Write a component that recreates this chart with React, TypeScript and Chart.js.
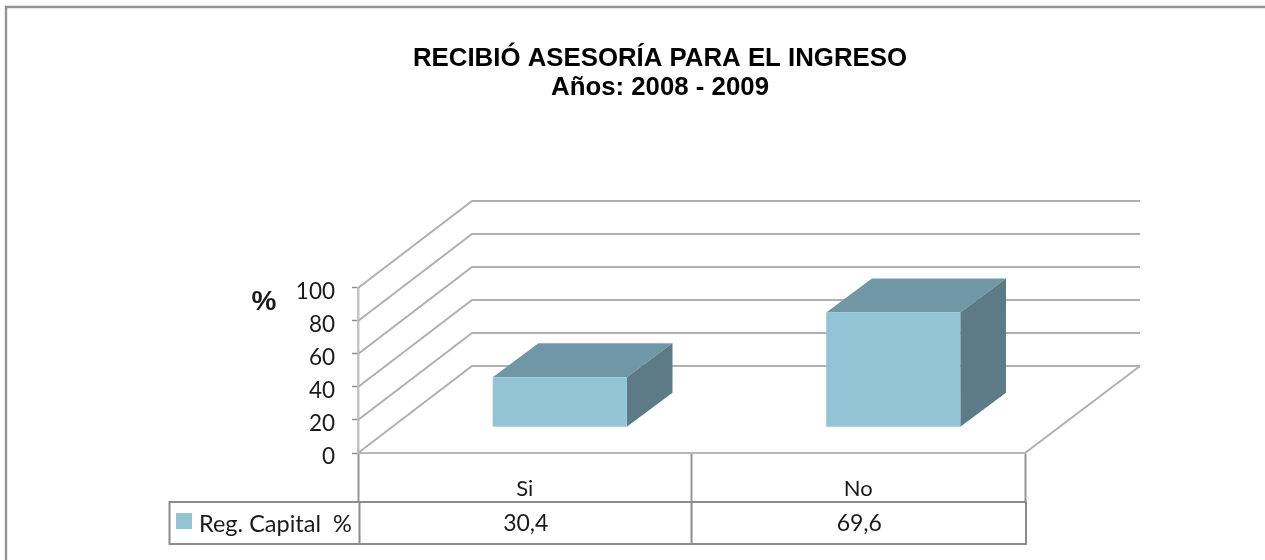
import React, { useEffect, useRef } from "react";
import { Chart, registerables } from "chart.js";

Chart.register(...registerables);

const categories = ["Si", "No"];
const seriesLabel = "Reg. Capital  %";
const seriesValues = [30.4, 69.6];
const titleLines = ["RECIBIÓ ASESORÍA PARA EL INGRESO", "Años: 2008 - 2009"];
const axisTitle = "%";
const yTicks = { min: 0, max: 100, stepSize: 20 };

const FRONT = "#93c4d6";
const TOP = "#6f97a6";
const SIDE = "#5d7b87";
const WALL = "#b0b0b0";
const TABLE = "#8c8c8c";
const TEXT = "#1a1a1a";
const LABEL_FONT = "Lato";

const FLOOR_DX = 114;
const FLOOR_DY = -87;
const BAR_DX = 35;
const BAR_DY = -25.7;
const BAR_DEPTH_X = 45.7;
const BAR_DEPTH_Y = -34;

const scene3d = {
  id: "scene3d",
  beforeDatasetsDraw(chart: any) {
    const { ctx } = chart;
    const x = chart.scales.x;
    const y = chart.scales.y;
    const left = x.left;
    const right = x.right;
    ctx.save();
    // outer frame
    ctx.strokeStyle = "#949494";
    ctx.lineWidth = 2.4;
    ctx.beginPath();
    ctx.moveTo(6, 560);
    ctx.lineTo(6, 7);
    ctx.lineTo(1265, 7);
    ctx.stroke();
    // walls
    ctx.strokeStyle = WALL;
    ctx.lineWidth = 2;
    y.ticks.forEach((t: any) => {
      const py = y.getPixelForValue(t.value);
      ctx.beginPath();
      ctx.moveTo(left, py);
      ctx.lineTo(left + FLOOR_DX, py + FLOOR_DY);
      ctx.lineTo(right + FLOOR_DX + 1, py + FLOOR_DY);
      ctx.stroke();
    });
    const y0 = y.getPixelForValue(0);
    ctx.beginPath();
    ctx.moveTo(right, y0);
    ctx.lineTo(right + FLOOR_DX + 1, y0 + FLOOR_DY);
    ctx.stroke();
    ctx.restore();
  },
  beforeDatasetDraw(chart: any, args: any) {
    const { ctx } = chart;
    const meta = chart.getDatasetMeta(args.index);
    ctx.save();
    ctx.translate(BAR_DX, BAR_DY);
    meta.data.forEach((bar: any) => {
      const l = bar.x - bar.width / 2;
      const r = bar.x + bar.width / 2;
      const t = bar.y;
      const b = bar.base;
      ctx.fillStyle = TOP;
      ctx.beginPath();
      ctx.moveTo(l, t);
      ctx.lineTo(l + BAR_DEPTH_X, t + BAR_DEPTH_Y);
      ctx.lineTo(r + BAR_DEPTH_X, t + BAR_DEPTH_Y);
      ctx.lineTo(r, t);
      ctx.closePath();
      ctx.fill();
      ctx.fillStyle = SIDE;
      ctx.beginPath();
      ctx.moveTo(r, t);
      ctx.lineTo(r + BAR_DEPTH_X, t + BAR_DEPTH_Y);
      ctx.lineTo(r + BAR_DEPTH_X, b + BAR_DEPTH_Y);
      ctx.lineTo(r, b);
      ctx.closePath();
      ctx.fill();
    });
  },
  afterDatasetDraw(chart: any) {
    chart.ctx.restore();
  },
  afterDraw(chart: any) {
    const { ctx } = chart;
    const x = chart.scales.x;
    const y = chart.scales.y;
    const tableTop = 502;
    const tableBottom = 544;
    const tableLeft = 169.5;
    const divider = x.left + 1.5;
    const tableRight = x.right + 1;
    ctx.save();
    // axis title
    ctx.fillStyle = TEXT;
    ctx.font = `bold 28px "Liberation Sans"`;
    ctx.textAlign = "center";
    ctx.textBaseline = "middle";
    ctx.fillText(axisTitle, 264, 302);
    // y tick labels
    ctx.font = `22.5px ${LABEL_FONT}`;
    ctx.textAlign = "right";
    y.ticks.forEach((t: any) => {
      ctx.fillText(String(t.value), 335, y.getPixelForValue(t.value) + 3.5);
    });
    // data table
    ctx.strokeStyle = TABLE;
    ctx.lineWidth = 2;
    ctx.strokeRect(tableLeft, tableTop, tableRight - tableLeft, tableBottom - tableTop);
    ctx.beginPath();
    ctx.moveTo(divider, tableTop);
    ctx.lineTo(divider, tableBottom);
    ctx.moveTo(x.getPixelForValue(0.5), tableTop);
    ctx.lineTo(x.getPixelForValue(0.5), tableBottom);
    ctx.stroke();
    // legend key and name
    ctx.fillStyle = FRONT;
    ctx.fillRect(176, 513, 16, 16);
    ctx.fillStyle = TEXT;
    ctx.font = `23.5px ${LABEL_FONT}`;
    ctx.textAlign = "left";
    ctx.fillText(seriesLabel, 199, 524);
    // values
    ctx.font = `23px ${LABEL_FONT}`;
    ctx.textAlign = "center";
    seriesValues.forEach((v, i) => {
      ctx.fillText(String(v).replace(".", ","), x.getPixelForValue(i) + 1, 524);
    });
    ctx.restore();
  },
};

export default function App() {
  const ref = useRef<HTMLCanvasElement | null>(null);

  useEffect(() => {
    const chart = new Chart(ref.current as HTMLCanvasElement, {
      type: "bar",
      data: {
        labels: categories,
        datasets: [
          {
            label: seriesLabel,
            data: seriesValues,
            backgroundColor: FRONT,
            borderWidth: 0,
            barPercentage: 0.402,
            categoryPercentage: 1,
            clip: false,
          },
        ],
      },
      options: {
        responsive: false,
        animation: false,
        layout: { padding: { left: 295, right: 240, top: 0, bottom: 0 } },
        plugins: {
          legend: { display: false },
          tooltip: { enabled: false },
          title: {
            display: true,
            text: titleLines,
            color: "#000000",
            font: { family: '"Liberation Sans"', size: 25.8, weight: "bold", lineHeight: 1.124 },
            padding: { top: 44, bottom: 186 },
          },
        },
        scales: {
          x: {
            grid: {
              drawOnChartArea: false,
              drawTicks: true,
              tickLength: 49,
              tickColor: "#949494",
              tickWidth: 2,
            },
            border: { color: "#b8b8b8", width: 2 },
            ticks: {
              color: TEXT,
              padding: -26,
              font: { family: LABEL_FONT, size: 22 },
              maxRotation: 0,
            },
            afterFit: (s: any) => {
              s.height = 107;
            },
          },
          y: {
            min: yTicks.min,
            max: yTicks.max,
            grid: {
              drawOnChartArea: false,
              drawTicks: true,
              tickLength: 6,
              tickColor: "#8f8f8f",
              tickWidth: 1.5,
            },
            border: { color: "#c4c4c4", width: 2.5 },
            ticks: {
              display: false,
              stepSize: yTicks.stepSize,
            },
            afterFit: (s: any) => {
              s.width = 63;
            },
          },
        },
      },
      plugins: [scene3d],
    } as any);
    return () => chart.destroy();
  }, []);

  return (
    <canvas
      ref={ref}
      width={1265}
      height={560}
      style={{ position: "absolute", left: 0, top: 0, width: 1265, height: 560 }}
    />
  );
}
